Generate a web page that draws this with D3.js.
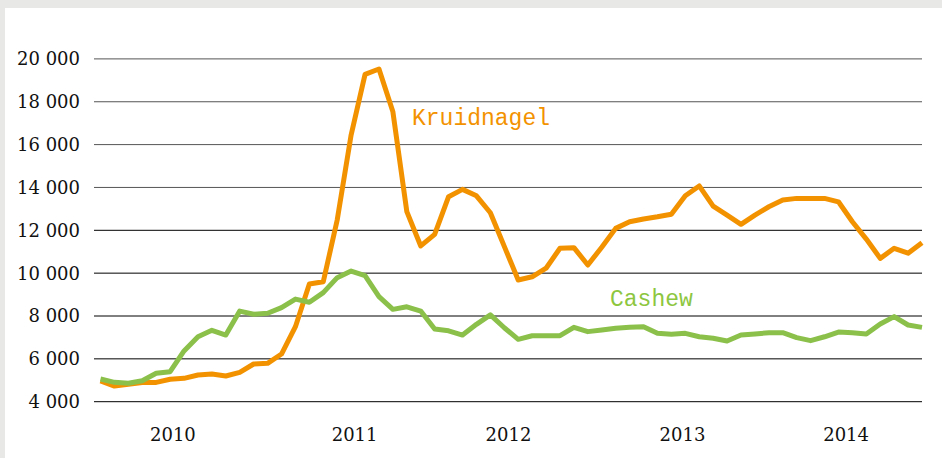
<!DOCTYPE html>
<html>
<head>
<meta charset="utf-8">
<script src="https://cdn.jsdelivr.net/npm/d3@7"></script>
<style>
  body { margin: 0; padding: 0; background: #e8e8e6; }
  svg { display: block; }
</style>
</head>
<body>
<script>
//Datos (precio por maand, 60 maanden 2010-2014)
var maanden = d3.range(0, 60);

var kruidnagel = [4970, 4730, 4810, 4900, 4900, 5045, 5090, 5245, 5290, 5200,
                  5370, 5760, 5790, 6225, 7500, 9490, 9600, 12480, 16450, 19280,
                  19530, 17530, 12870, 11270, 11810, 13570, 13910, 13610, 12820, 11250,
                  9680, 9830, 10230, 11160, 11190, 10380, 11210, 12090, 12400, 12530,
                  12630, 12750, 13610, 14070, 13130, 12710, 12280, 12710, 13100, 13410,
                  13490, 13490, 13490, 13330, 12400, 11590, 10690, 11160, 10930, 11420];

var cashew = [5060, 4905, 4860, 4980, 5325, 5400, 6370, 7030, 7330, 7110,
              8230, 8080, 8130, 8390, 8790, 8640, 9090, 9790, 10100, 9880,
              8900, 8310, 8430, 8230, 7390, 7310, 7110, 7610, 8050, 7450,
              6910, 7080, 7080, 7080, 7470, 7270, 7350, 7430, 7470, 7500,
              7190, 7150, 7190, 7030, 6960, 6830, 7110, 7160, 7220, 7220,
              6990, 6850, 7030, 7250, 7220, 7160, 7630, 7970, 7580, 7470];

var yTicks      = [4000, 6000, 8000, 10000, 12000, 14000, 16000, 18000, 20000];
var jaarLabels  = ["2010", "2011", "2012", "2013", "2014"];
var jaarPositie = [5.2, 18.25, 29.3, 41.8, 53.55]; //posicion en maanden

//Tamaño
var ancho = 942;
var alto  = 458;

var fmt = d3.formatLocale({decimal: ",", thousands: " ", grouping: [3], currency: ["", ""]}).format(",");

var x = d3.scaleLinear().domain([0, 59]).range([100.5, 922]);
var y = d3.scaleLinear().domain([4000, 20000]).range([401.7, 58.9]);

var svg = d3.select("body").append("svg")
            .attr("width", ancho)
            .attr("height", alto);

//Fondo gris y panel blanco
svg.append("rect")
   .attr("x", 0).attr("y", 0)
   .attr("width", ancho).attr("height", alto)
   .style("fill", "#e8e8e6");

svg.append("rect")
   .attr("x", 5).attr("y", 8)
   .attr("width", ancho - 5).attr("height", alto - 8)
   .style("fill", "#ffffff");

//Lineas horizontales
svg.selectAll("line.grid")
   .data(yTicks)
   .enter().append("line")
   .attr("class", "grid")
   .attr("x1", 94)
   .attr("x2", 922)
   .attr("y1", function(d) { return y(d); })
   .attr("y2", function(d) { return y(d); })
   .style("stroke", function(d) { return d >= 14000 ? "#555" : "#000"; })
   .style("stroke-width", 1);

//Etiquetas eje Y
svg.selectAll("text.ylab")
   .data(yTicks)
   .enter().append("text")
   .attr("class", "ylab")
   .attr("x", 80)
   .attr("y", function(d) { return y(d); })
   .attr("dy", "0.36em")
   .attr("text-anchor", "end")
   .style("font-family", "'DejaVu Serif', serif")
   .style("font-size", "18px")
   .style("fill", "#111")
   .text(function(d) { return fmt(d); });

//Etiquetas de los años
svg.selectAll("text.jaar")
   .data(jaarLabels)
   .enter().append("text")
   .attr("class", "jaar")
   .attr("x", function(d, i) { return x(jaarPositie[i]); })
   .attr("y", 441)
   .attr("text-anchor", "middle")
   .style("font-family", "'DejaVu Serif', serif")
   .style("font-size", "18px")
   .style("fill", "#111")
   .text(function(d) { return d; });

//Lineas de las series
var linea = d3.line()
              .x(function(d, i) { return x(maanden[i]); })
              .y(function(d) { return y(d); });

svg.append("path")
   .datum(kruidnagel)
   .attr("d", linea)
   .style("fill", "none")
   .style("stroke", "#f39200")
   .style("stroke-width", 5)
   .style("stroke-linejoin", "round");

svg.append("path")
   .datum(cashew)
   .attr("d", linea)
   .style("fill", "none")
   .style("stroke", "#8bc04a")
   .style("stroke-width", 5)
   .style("stroke-linejoin", "round");

//Nombres de las series
svg.append("text")
   .attr("x", 412)
   .attr("y", 125)
   .style("font-family", "'Liberation Mono', monospace")
   .style("font-size", "23px")
   .style("fill", "#f39200")
   .text("Kruidnagel");

svg.append("text")
   .attr("x", 610)
   .attr("y", 306)
   .style("font-family", "'Liberation Mono', monospace")
   .style("font-size", "23px")
   .style("fill", "#8dc63f")
   .text("Cashew");
</script>
</body>
</html>
